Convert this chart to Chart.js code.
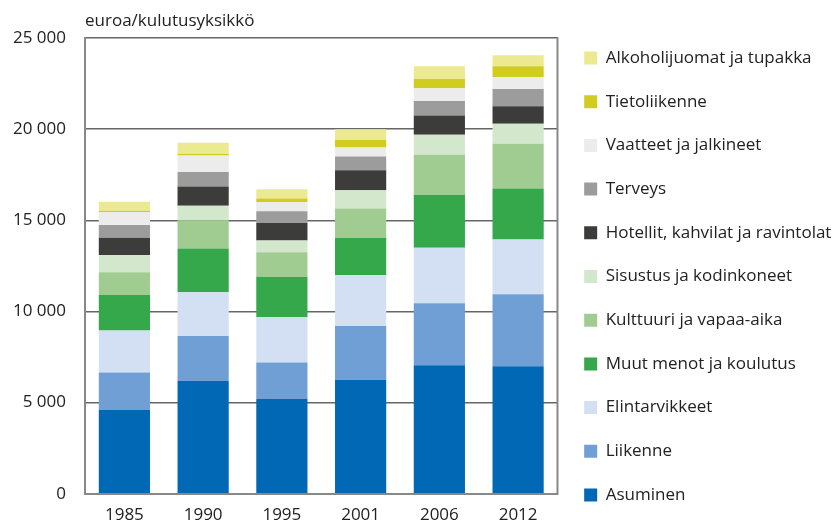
<!DOCTYPE html>
<html>
<head>
<meta charset="utf-8">
<script src="https://cdn.jsdelivr.net/npm/chart.js@4"></script>
<style>
  body { margin: 0; background: #fff; }
  #wrap { width: 834px; height: 523px; position: relative; }
</style>
</head>
<body>
<div id="wrap"><canvas id="mainChart"></canvas></div>
<script>
// vuodet ja kulutuserät (euroa/kulutusyksikkö), alimmasta ylimpään
const years = [`1985`, `1990`, `1995`, `2001`, `2006`, `2012`]
const asuminen = [4600, 6200, 5200, 6250, 7050, 7000]
const liikenne = [2050, 2450, 2000, 2950, 3400, 3950]
const elintarvikkeet = [2300, 2400, 2500, 2800, 3050, 3000]
const muutMenot = [1950, 2400, 2200, 2050, 2900, 2800]
const kulttuuri = [1250, 1550, 1350, 1600, 2200, 2450]
const sisustus = [950, 800, 650, 1000, 1100, 1100]
const hotellit = [950, 1050, 950, 1100, 1050, 950]
const terveys = [700, 800, 650, 750, 800, 950]
const vaatteet = [700, 900, 500, 500, 700, 650]
const tietoliikenne = [70, 100, 200, 400, 500, 600]
const alkoholi = [500, 600, 500, 600, 700, 600]
const yTicks = [0, 5000, 10000, 15000, 20000, 25000]

const FONT = `'Open Sans', 'Noto Sans', sans-serif`

const series = [
  { label: `Asuminen`, data: asuminen, color: `#0068b4` },
  { label: `Liikenne`, data: liikenne, color: `#6f9fd5` },
  { label: `Elintarvikkeet`, data: elintarvikkeet, color: `#d3dff2` },
  { label: `Muut menot ja koulutus`, data: muutMenot, color: `#34a84a` },
  { label: `Kulttuuri ja vapaa-aika`, data: kulttuuri, color: `#a0cc92` },
  { label: `Sisustus ja kodinkoneet`, data: sisustus, color: `#d3e7cc` },
  { label: `Hotellit, kahvilat ja ravintolat`, data: hotellit, color: `#3c3c3b` },
  { label: `Terveys`, data: terveys, color: `#9c9c9c` },
  { label: `Vaatteet ja jalkineet`, data: vaatteet, color: `#ececec` },
  { label: `Tietoliikenne`, data: tietoliikenne, color: `#d0cd20` },
  { label: `Alkoholijuomat ja tupakka`, data: alkoholi, color: `#ecea91` },
]

// oikea reunaviiva kaavioalueelle
const frame = {
  id: `frame`,
  afterDraw(chart) {
    const { ctx, chartArea } = chart
    ctx.save()
    ctx.strokeStyle = `#888`
    ctx.lineWidth = 2
    ctx.beginPath()
    ctx.moveTo(chartArea.right, chartArea.top - 1)
    ctx.lineTo(chartArea.right, chartArea.bottom + 1)
    ctx.stroke()
    ctx.restore()
  },
}

// selite saa piirtää kankaan oikeaan reunaan asti (ei leikkausta)
const legendWide = {
  id: `legendWide`,
  afterLayout(chart) {
    if (chart.legend) chart.legend.right = chart.width
  },
}

const thousands = (v) => String(v).replace(/\B(?=(\d{3})+(?!\d))/g, ` `)

new Chart(document.getElementById(`mainChart`), {
  type: `bar`,
  data: {
    labels: years,
    datasets: series.map((s) => ({
      label: s.label,
      data: s.data,
      backgroundColor: s.color,
      borderWidth: 0,
      barPercentage: 0.65,
      categoryPercentage: 1,
    })),
  },
  options: {
    responsive: true,
    maintainAspectRatio: false,
    animation: false,
    layout: { padding: { left: -6, right: 88.7, top: 0, bottom: -14.5 } },
    scales: {
      x: {
        stacked: true,
        grid: { display: false, drawTicks: false },
        border: { color: `#888`, width: 2 },
        ticks: {
          color: `#222`,
          padding: 5.5,
          font: { family: FONT, size: 17, lineHeight: `32px` },
        },
      },
      y: {
        stacked: true,
        min: 0,
        max: 25000,
        afterBuildTicks: (axis) => {
          axis.ticks = yTicks.map((v) => ({ value: v }))
        },
        grid: { color: `#666`, lineWidth: 1.5, drawTicks: false },
        border: { color: `#888`, width: 2 },
        ticks: {
          color: `#222`,
          padding: 19,
          font: { family: FONT, size: 17 },
          callback: (v) => thousands(v),
        },
      },
    },
    plugins: {
      title: {
        display: true,
        text: `euroa/kulutusyksikkö`,
        align: `start`,
        fullSize: false,
        color: `#222`,
        font: { family: FONT, size: 17, weight: `normal` },
        padding: { top: 10.8, bottom: 6.8 },
      },
      legend: {
        position: `right`,
        align: `start`,
        reverse: true,
        title: { display: true, text: ``, font: { size: 1, lineHeight: 1 }, padding: { top: 21.8, bottom: 0 } },
        labels: {
          boxWidth: 13,
          boxHeight: 13,
          padding: 26.7,
          color: `#222`,
          font: { family: FONT, size: 17 },
        },
      },
      tooltip: { enabled: false },
    },
  },
  plugins: [frame, legendWide],
})
</script>
</body>
</html>
